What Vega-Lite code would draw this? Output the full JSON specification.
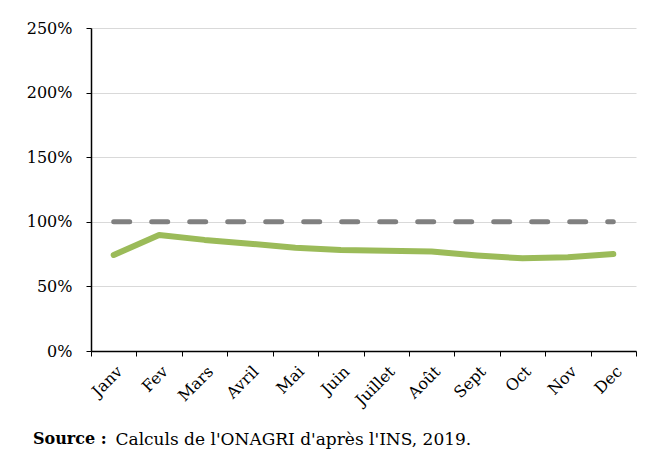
{
  "$schema": "https://vega.github.io/schema/vega-lite/v6.json",
  "width": 545,
  "height": 323,
  "autosize": {"type": "none"},
  "padding": {"left": 91, "top": 28, "right": 21, "bottom": 106},
  "background": "white",
  "config": {
    "view": {"stroke": null},
    "font": "DejaVu Serif",
    "axis": {"labelFont": "DejaVu Serif", "labelFontSize": 16, "labelColor": "#000000", "titleFont": "DejaVu Serif"}
  },
  "title": {
    "text": "Source :",
    "orient": "bottom",
    "anchor": "start",
    "frame": "group",
    "font": "DejaVu Serif",
    "fontSize": 16,
    "fontWeight": "bold",
    "color": "#000000",
    "dx": -58,
    "dy": -20
  },
  "data": {
    "values": [
      {"mois": "Janv", "valeur": 0.743, "ref": 1},
      {"mois": "Fev", "valeur": 0.898, "ref": 1},
      {"mois": "Mars", "valeur": 0.86, "ref": 1},
      {"mois": "Avril", "valeur": 0.83, "ref": 1},
      {"mois": "Mai", "valeur": 0.80, "ref": 1},
      {"mois": "Juin", "valeur": 0.782, "ref": 1},
      {"mois": "Juillet", "valeur": 0.775, "ref": 1},
      {"mois": "Août", "valeur": 0.77, "ref": 1},
      {"mois": "Sept", "valeur": 0.74, "ref": 1},
      {"mois": "Oct", "valeur": 0.717, "ref": 1},
      {"mois": "Nov", "valeur": 0.725, "ref": 1},
      {"mois": "Dec", "valeur": 0.75, "ref": 1}
    ]
  },
  "encoding": {
    "x": {
      "field": "mois",
      "type": "nominal",
      "sort": null,
      "scale": {"type": "band", "paddingInner": 0, "paddingOuter": 0},
      "axis": {
        "title": "Calculs de l'ONAGRI d'après l'INS, 2019.",
        "titleFont": "DejaVu Serif",
        "titleFontWeight": "normal",
        "titleFontSize": 17,
        "titleColor": "#000000",
        "titleAlign": "left",
        "titleBaseline": "alphabetic",
        "titleX": 24,
        "titleY": 93,
        "labelAngle": -45,
        "labelPadding": 7,
        "tickBand": "extent",
        "tickColor": "#000000",
        "tickSize": 5,
        "domainColor": "#000000",
        "domainWidth": 1.5,
        "grid": false
      }
    }
  },
  "layer": [
    {
      "mark": {"type": "line", "color": "#808080", "strokeWidth": 5, "strokeDash": [16, 22], "strokeCap": "round"},
      "encoding": {
        "y": {
          "field": "ref",
          "type": "quantitative",
          "scale": {"domain": [0, 2.5], "nice": false},
          "axis": {
            "title": null,
            "format": ".0%",
            "values": [0, 0.5, 1, 1.5, 2, 2.5],
            "gridColor": "#d9d9d9",
            "gridWidth": 1,
            "domainColor": "#000000",
            "domainWidth": 1.5,
            "tickColor": "#000000",
            "tickSize": 5,
            "labelPadding": 14
          }
        }
      }
    },
    {
      "mark": {"type": "line", "color": "#9bbb59", "strokeWidth": 6, "strokeCap": "round", "strokeJoin": "round"},
      "encoding": {
        "y": {"field": "valeur", "type": "quantitative", "scale": {"domain": [0, 2.5], "nice": false}}
      }
    }
  ]
}
